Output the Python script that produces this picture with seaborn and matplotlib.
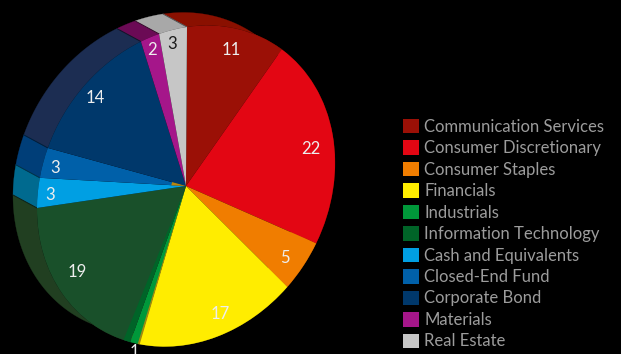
import numpy as np
import seaborn as sns
import matplotlib
matplotlib.use("Agg")
import matplotlib.pyplot as plt
from matplotlib.patches import Patch, Wedge
from matplotlib.transforms import Affine2D

sectors = ["Communication Services", "Consumer Discretionary", "Consumer Staples",
           "Financials", "Industrials", "Information Technology",
           "Cash and Equivalents", "Closed-End Fund", "Corporate Bond",
           "Materials", "Real Estate"]
weights = [11, 22, 5, 17, 1, 19, 3, 3, 14, 2, 3]

legend_colors = ["#9b1006", "#e30613", "#f07d00", "#ffed00", "#00983a", "#006428",
                 "#009fe3", "#0060a9", "#00386b", "#a5168a", "#c6c6c6"]
face_colors = ["#9b1006", "#e30613", "#f07d00", "#ffed00", "#00983a", "#19502a",
               "#009fe3", "#0060a9", "#00386b", "#a5168a", "#c6c6c6"]
rim_colors = ["#8a1000", "#8a1000", "#b05a00", "#b0a000", "#006428", "#213f21",
              "#006a8f", "#003e78", "#1c2d52", "#6b0a55", "#a8a8a8"]
label_colors = ["#eeeeee"] * 10 + ["#1a1a1a"]
label_radii = [0.88, 0.85, 0.88, 0.85, 1.05, 0.87, 0.93, 0.92, 0.90, 0.93, 0.93]
label_nudges = [(0, 2), (0, 7), (-4, 2), (7, 0), (2, 1), (-1, -8), (2, 3), (0, 3), (0, 3), (0, 2), (-2, 3)]

sns.set_theme(style="dark", rc={"figure.facecolor": "black", "axes.facecolor": "black",
                                "savefig.facecolor": "black"})
plt.rcParams["font.family"] = ["Lato", "DejaVu Sans"]
sns.set_palette(sns.color_palette(face_colors))

fig = plt.figure(figsize=(6.21, 3.54), dpi=100)
ax = fig.add_axes([0, 0, 1, 1])

wedges, _ = ax.pie(weights, colors=face_colors, startangle=90, counterclock=False,
                   wedgeprops={"edgecolor": "none", "linewidth": 0})
ax.set_aspect("auto")
ax.set_xlim(0, 621)
ax.set_ylim(354, 0)
ax.axis("off")

# The unit disc is sheared onto the tilted face of the pie; the rim trails up and left.
disc = Affine2D.from_values(149, -22, 1, -159, 186, 186)
depth = np.array([-24, -13])
to_screen = disc + ax.transData

for wedge, rim in zip(wedges, rim_colors):
    wedge.set_transform(to_screen)
    wedge.set_zorder(3)
    arc = np.radians(np.linspace(wedge.theta1, wedge.theta2, 60))
    front = disc.transform(np.column_stack([np.cos(arc), np.sin(arc)]))
    back = front + depth
    outline = np.vstack([front, back[::-1]])
    ax.fill(outline[:, 0], outline[:, 1], facecolor=rim, edgecolor=rim, linewidth=0.2, zorder=2)
    # Dark seam where neighbouring rim panels meet.
    seam = np.array([front[0], back[0]])
    ax.plot(seam[:, 0], seam[:, 1], color=tuple(0.5 * c for c in matplotlib.colors.to_rgb(rim)),
            linewidth=0.7, zorder=2.5)

# Narrow inner wall along the Industrials edge and the small fold at the hub.
it_wedge = wedges[sectors.index("Information Technology")]
ax.add_patch(Wedge((0, 0), 1, it_wedge.theta2 - 2.8, it_wedge.theta2, facecolor="#006428",
                   edgecolor="none", transform=to_screen, zorder=4))
fin_wedge = wedges[sectors.index("Financials")]
ax.add_patch(Wedge((0, 0), 1, fin_wedge.theta1 - 0.5, fin_wedge.theta1 + 0.3, facecolor="#a08a10",
                   edgecolor="none", transform=to_screen, zorder=4))
ax.add_patch(Wedge((0, 0), 0.10, 158, 170, facecolor="#b8860b", edgecolor="none",
                   transform=to_screen, zorder=5))

for wedge, value, radius, nudge, color in zip(wedges, weights, label_radii, label_nudges, label_colors):
    mid = np.radians((wedge.theta1 + wedge.theta2) / 2)
    x, y = disc.transform((radius * np.cos(mid), radius * np.sin(mid)))
    ax.text(x + nudge[0], y + nudge[1], str(value), ha="center", va="center",
            fontsize=12, color=color, zorder=6, clip_on=False)

handles = [Patch(facecolor=c, edgecolor="none") for c in legend_colors]
legend = ax.legend(handles, sectors, loc="center left",
                   bbox_to_anchor=(403, 234), bbox_transform=ax.transData,
                   frameon=False, fontsize=12, labelcolor="#9c9c9c",
                   handlelength=0.96, handleheight=0.96, handletextpad=0.32,
                   labelspacing=0.33, borderpad=0, borderaxespad=0)

fig.savefig("out.png", dpi=100)
